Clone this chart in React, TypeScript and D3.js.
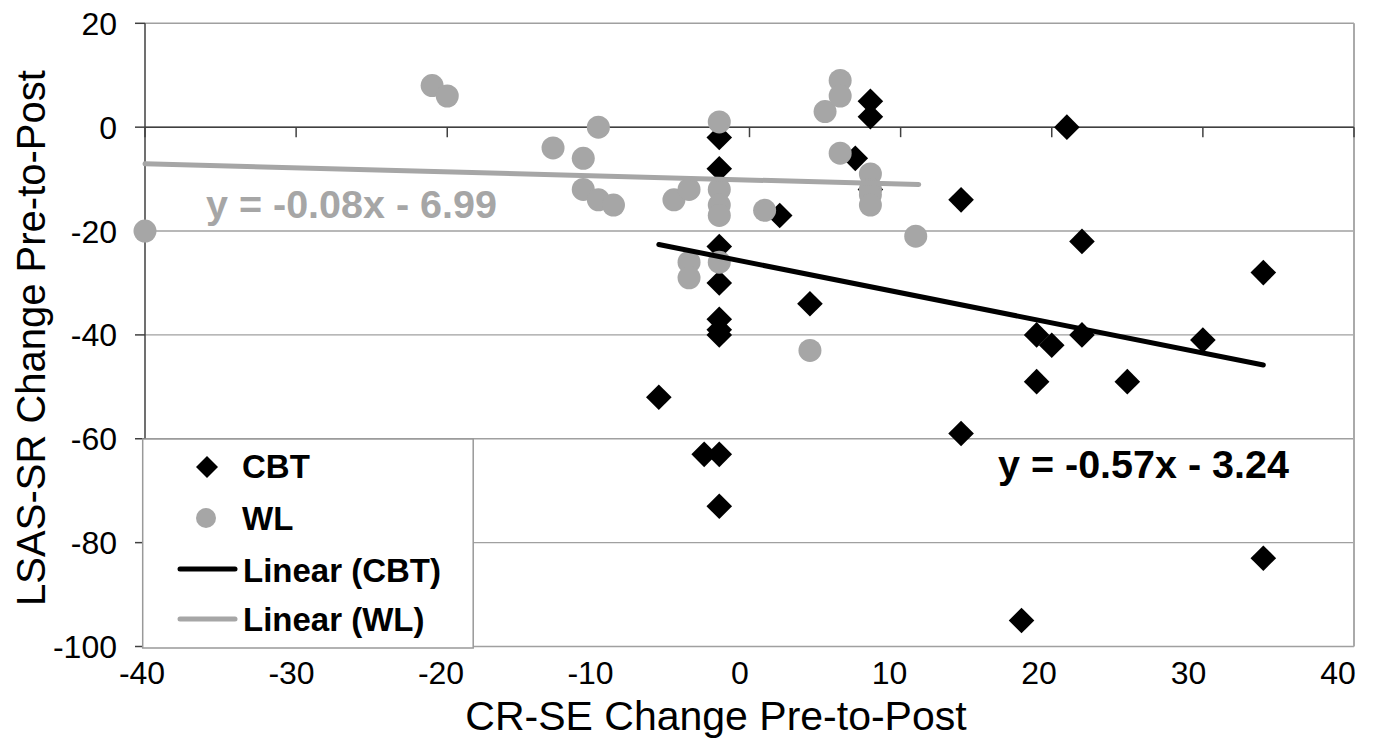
import React from "react";
import * as d3 from "d3";

// ---- data ----
const cbtX = [-6, -3, -2, -2, -2, -2, -2, -2, -2, -2, -2, 2, 4, 7, 8, 8, 8, 14, 14, 18, 19, 19, 20, 21, 22, 22, 25, 30, 34, 34];
const cbtY = [-52, -63, -2, -8, -23, -30, -37, -39, -40, -63, -73, -17, -34, -6, 5, 2, -12, -14, -59, -95, -40, -49, -42, 0, -22, -40, -49, -41, -28, -83];

const wlX = [-40, -21, -20, -13, -11, -11, -10, -10, -9, -5, -4, -4, -4, -2, -2, -2, -2, -2, 1, 4, 5, 6, 6, 6, 8, 8, 8, 8, 11];
const wlY = [-20, 8, 6, -4, -6, -12, 0, -14, -15, -14, -12, -26, -29, 1, -12, -15, -17, -26, -16, -43, 3, 9, 6, -5, -9, -12, -13, -15, -21];

const cbtTrendX = [-6, 34];
const cbtTrendY = [-22.6, -45.8];
const wlTrendX = [-40, 11.2];
const wlTrendY = [-7.06, -11.05];

const xTicks = [-40, -30, -20, -10, 0, 10, 20, 30, 40];
const yTicks = [20, 0, -20, -40, -60, -80, -100];

const legendLabels = ["CBT", "WL", "Linear (CBT)", "Linear (WL)"];
const cbtEquation = "y = -0.57x - 3.24";
const wlEquation = "y = -0.08x - 6.99";
const xTitle = "CR-SE Change Pre-to-Post";
const yTitle = "LSAS-SR Change Pre-to-Post";

const GRAY = "#a6a6a6";
const AXIS = "#404040";
const GRID = "#a0a0a0";
const FONT = "'Liberation Sans', Arial, Helvetica, sans-serif";

export default function App() {
  const W = 1378, H = 741;
  const x = d3.scaleLinear().domain([-40, 40]).range([145, 1354]);
  const y = d3.scaleLinear().domain([-100, 20]).range([646.5, 23.3]);
  // tick labels in the reference sit on a slightly narrower span than the ticks
  const xLabel = d3.scaleLinear().domain([-40, 40]).range([142, 1338]);
  const line = d3.line<[number, number]>().x(d => x(d[0])).y(d => y(d[1]));
  const cbtTrend = cbtTrendX.map((v, i) => [v, cbtTrendY[i]] as [number, number]);
  const wlTrend = wlTrendX.map((v, i) => [v, wlTrendY[i]] as [number, number]);
  const dR = 12.8; // diamond half-diagonal
  const diamond = (cx: number, cy: number, r: number) =>
    `M${cx},${cy - r}L${cx + r},${cy}L${cx},${cy + r}L${cx - r},${cy}Z`;

  const lgX = 142.7, lgY = 439, lgW = 330.5, lgH = 209;

  return (
    <svg width={W} height={H} style={{ position: "absolute", left: 0, top: 0, background: "#fff" }} fontFamily={FONT}>
      <rect x={0} y={0} width={W} height={H} fill="#fff" />
      {/* gridlines */}
      {yTicks.map(t => (
        <line key={"g" + t} x1={x(-40)} x2={x(40)} y1={y(t)} y2={y(t)} stroke={GRID} strokeWidth={1.4} />
      ))}
      {/* right border */}
      <line x1={x(40)} x2={x(40)} y1={y(20)} y2={y(-100)} stroke="#aaaaaa" strokeWidth={2} />
      {/* y axis */}
      <line x1={x(-40)} x2={x(-40)} y1={y(20)} y2={y(-100)} stroke={AXIS} strokeWidth={1.5} />
      {yTicks.map(t => (
        <line key={"yt" + t} x1={x(-40) - 10} x2={x(-40)} y1={y(t)} y2={y(t)} stroke={AXIS} strokeWidth={1.5} />
      ))}
      {/* x axis at y=0 */}
      <line x1={x(-40)} x2={x(40)} y1={y(0)} y2={y(0)} stroke={AXIS} strokeWidth={1.5} />
      {xTicks.map(t => (
        <line key={"xt" + t} x1={x(t)} x2={x(t)} y1={y(0)} y2={y(0) + 10} stroke={AXIS} strokeWidth={1.5} />
      ))}
      {/* CBT diamonds */}
      {cbtX.map((v, i) => (
        <path key={"c" + i} d={diamond(x(v), y(cbtY[i]), dR)} fill="#000" />
      ))}
      {/* WL circles */}
      {wlX.map((v, i) => (
        <circle key={"w" + i} cx={x(v)} cy={y(wlY[i])} r={11.5} fill={GRAY} />
      ))}
      {/* trend lines */}
      <path d={line(wlTrend) || ""} stroke={GRAY} strokeWidth={5} fill="none" strokeLinecap="round" />
      <path d={line(cbtTrend) || ""} stroke="#000" strokeWidth={5} fill="none" strokeLinecap="round" />
      {/* equations */}
      <text x={206} y={218} fontSize={39.5} fontWeight="bold" fill={GRAY}>{wlEquation}</text>
      <text x={998} y={478} fontSize={39.5} fontWeight="bold" fill="#000">{cbtEquation}</text>
      {/* legend */}
      <rect x={lgX} y={lgY} width={lgW} height={lgH} fill="#fff" stroke="#999999" strokeWidth={1.5} />
      <path d={diamond(207, 467, 11)} fill="#000" />
      <circle cx={206} cy={518} r={10} fill={GRAY} />
      <line x1={180} x2={235} y1={569} y2={569} stroke="#000" strokeWidth={5} strokeLinecap="round" />
      <line x1={180} x2={235} y1={619} y2={619} stroke={GRAY} strokeWidth={5} strokeLinecap="round" />
      {legendLabels.map((l, i) => (
        <text key={l} x={i < 2 ? 242 : 243} y={[478, 530, 582, 631][i]} fontSize={33} fontWeight="bold" fill="#000">{l}</text>
      ))}
      {/* tick labels */}
      {yTicks.map(t => (
        <text key={"yl" + t} x={117} y={y(t) + 11.5} fontSize={32} textAnchor="end" fill="#000">{t}</text>
      ))}
      {xTicks.map(t => (
        <text key={"xl" + t} x={xLabel(t)} y={684} fontSize={32} textAnchor="middle" fill="#000">{t}</text>
      ))}
      {/* axis titles */}
      <text x={716} y={730} fontSize={41} textAnchor="middle" fill="#000">{xTitle}</text>
      <text transform={`translate(45,338) rotate(-90)`} fontSize={40} textAnchor="middle" fill="#000">{yTitle}</text>
    </svg>
  );
}
